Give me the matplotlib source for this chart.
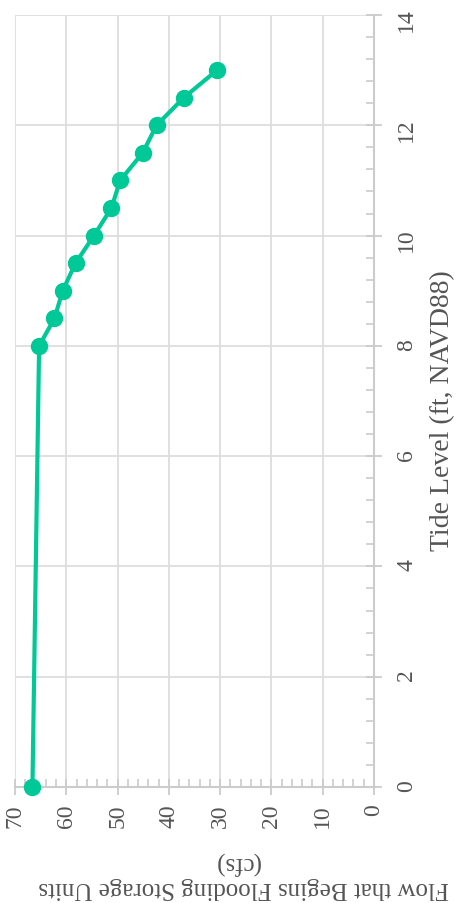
import numpy as np
import matplotlib.pyplot as plt
from matplotlib.ticker import MultipleLocator

# tide level (ft, NAVD88) vs flow that begins flooding storage units (cfs)
tide = [0, 8, 8.5, 9, 9.5, 10, 10.5, 11, 11.5, 12, 12.5, 13]
flow = [66.6, 65.3, 62.3, 60.7, 58.2, 54.6, 51.2, 49.5, 45.1, 42.4, 37.1, 30.6]
flow_ticks = [70, 60, 50, 40, 30, 20, 10, 0]
tide_ticks = [0, 2, 4, 6, 8, 10, 12, 14]

plt.rcParams['font.family'] = ['Liberation Serif', 'DejaVu Serif']

fig = plt.figure(figsize=(4.62, 9.04), dpi=100)
ax = fig.add_axes([15/462, 116/904, 359/462, 772/904])

ax.plot(flow, tide, color='#00c896', lw=3, marker='o', ms=11.5, zorder=3,
        clip_on=False)

ax.set_xlim(70, 0)
ax.set_ylim(0, 14)
ax.set_xticks(flow_ticks)
ax.set_yticks(tide_ticks)
ax.xaxis.set_minor_locator(MultipleLocator(2))
ax.yaxis.set_minor_locator(MultipleLocator(0.4))
ax.yaxis.tick_right()

ax.grid(True, which='major', color='#dddddd', lw=1.3)
ax.set_axisbelow(True)
for s in ['left', 'top']:
    ax.spines[s].set_visible(False)
for s in ['right', 'bottom']:
    ax.spines[s].set_color('#cccccc')
    ax.spines[s].set_linewidth(1.5)

ax.tick_params(which='major', direction='inout', length=12, width=1.3,
               color='#cccccc', labelsize=17, labelcolor='#555555',
               labelrotation=90)
ax.tick_params(axis='x', which='major', pad=6)
ax.tick_params(axis='y', which='major', pad=10)
ax.tick_params(which='minor', direction='in', length=6, width=1.2,
               color='#cccccc')

fig.text(443/462, 1 - 411/904, 'Tide Level (ft, NAVD88)', rotation=90,
         ha='center', va='center', fontsize=20, color='#555555')
fig.text(244/462, 1 - 888/904, 'Flow that Begins Flooding Storage Units',
         rotation=180, ha='center', va='center', fontsize=18, color='#555555')
fig.text(237/462, 1 - 863/904, '(cfs)', rotation=180, ha='center',
         va='center', fontsize=18, color='#555555')

fig.savefig('out.png', dpi=100)
